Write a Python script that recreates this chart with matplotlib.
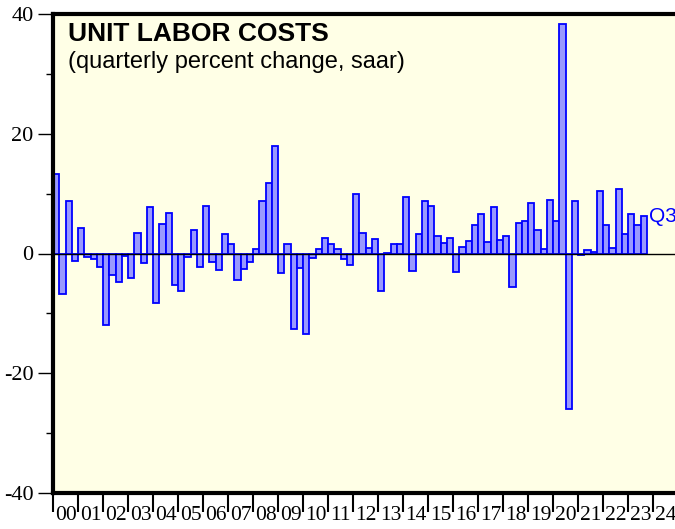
import matplotlib
matplotlib.use("Agg")
import matplotlib.pyplot as plt
from matplotlib.ticker import FixedLocator, NullFormatter, FixedFormatter
import numpy as np

plt.rcParams["axes.unicode_minus"] = False

start_year = 2000
values = [
    13.2, -6.7, 8.7, -1.2,      # 2000
    4.3, -0.6, -0.9, -2.3,      # 2001
    -12.0, -3.6, -4.8, -0.5,    # 2002
    -4.1, 3.5, -1.6, 7.7,       # 2003
    -8.3, 4.9, 6.8, -5.2,       # 2004
    -6.3, -0.6, 3.9, -2.3,      # 2005
    8.0, -1.5, -2.7, 3.2,       # 2006
    1.6, -4.4, -2.6, -1.4,      # 2007
    0.8, 8.7, 11.8, 17.9,       # 2008
    -3.3, 1.6, -12.6, -2.5,     # 2009
    -13.5, -0.7, 0.7, 2.6,      # 2010
    1.6, 0.8, -0.9, -1.9,       # 2011
    9.9, 3.4, 1.0, 2.4,         # 2012
    -6.3, 0.1, 1.6, 1.6,        # 2013
    9.4, -3.0, 3.2, 8.8,        # 2014
    7.9, 2.9, 1.7, 2.6,         # 2015
    -3.1, 1.1, 2.1, 4.7,        # 2016
    6.6, 1.9, 7.8, 2.3,         # 2017
    2.9, -5.6, 5.1, 5.5,        # 2018
    8.5, 4.0, 0.7, 9.0,         # 2019
    5.4, 38.4, -26.0, 8.7,      # 2020
    -0.3, 0.6, 0.2, 10.4,       # 2021
    4.7, 1.0, 10.8, 3.2,        # 2022
    6.6, 4.7, 6.2,              # 2023
]
year_labels = ["%02d" % (y % 100) for y in range(2000, 2025)]
title = "UNIT LABOR COSTS"
subtitle = "(quarterly percent change, saar)"
last_label = "Q3"

fig = plt.figure(figsize=(6.75, 5.29), dpi=100)
ax = fig.add_axes([53/675, 36/529, 625/675, 479/529])
ax.set_facecolor("#FFFFE6")

x = start_year + np.arange(len(values)) * 0.25
ax.bar(x, values, width=0.25, align="edge", color="#9999FF",
       edgecolor="#0000FF", linewidth=1.3, zorder=2)
ax.axhline(0, color="black", linewidth=1.0, zorder=3)

ax.set_xlim(2000, 2025)
ax.set_ylim(-40, 40)

for s in ["left", "top", "bottom"]:
    ax.spines[s].set_linewidth(3)
ax.spines["right"].set_visible(False)

ax.yaxis.set_major_locator(FixedLocator([-40, -20, 0, 20, 40]))
ax.yaxis.set_minor_locator(FixedLocator([-30, -10, 10, 30]))
ax.tick_params(axis="y", which="major", length=11, width=1, direction="out",
               labelsize=16, pad=3)
ax.tick_params(axis="y", which="minor", length=5, width=1, direction="out")

ax.xaxis.set_major_locator(FixedLocator(np.arange(2000, 2026)))
ax.xaxis.set_major_formatter(NullFormatter())
ax.xaxis.set_minor_locator(FixedLocator(np.arange(2000, 2025) + 0.5))
ax.xaxis.set_minor_formatter(FixedFormatter(year_labels))
ax.tick_params(axis="x", which="major", length=14, width=1.5, direction="out")
ax.tick_params(axis="x", which="minor", length=0, labelsize=15.5, pad=9)

for lab in ax.get_xticklabels(minor=True) + ax.get_yticklabels():
    lab.set_family("Liberation Serif")

ax.text(0.0235, 0.983, title, transform=ax.transAxes, fontsize=19,
        fontweight="bold", family="Liberation Sans", va="top", ha="left")
ax.text(0.0235, 0.922, subtitle, transform=ax.transAxes, fontsize=17,
        family="Liberation Sans", va="top", ha="left")

ax.text(x[-1] + 0.35, values[-1], last_label, color="#0000FF", fontsize=15,
        family="Liberation Sans", va="center", ha="left", clip_on=False)

fig.savefig("out.png", dpi=100)
